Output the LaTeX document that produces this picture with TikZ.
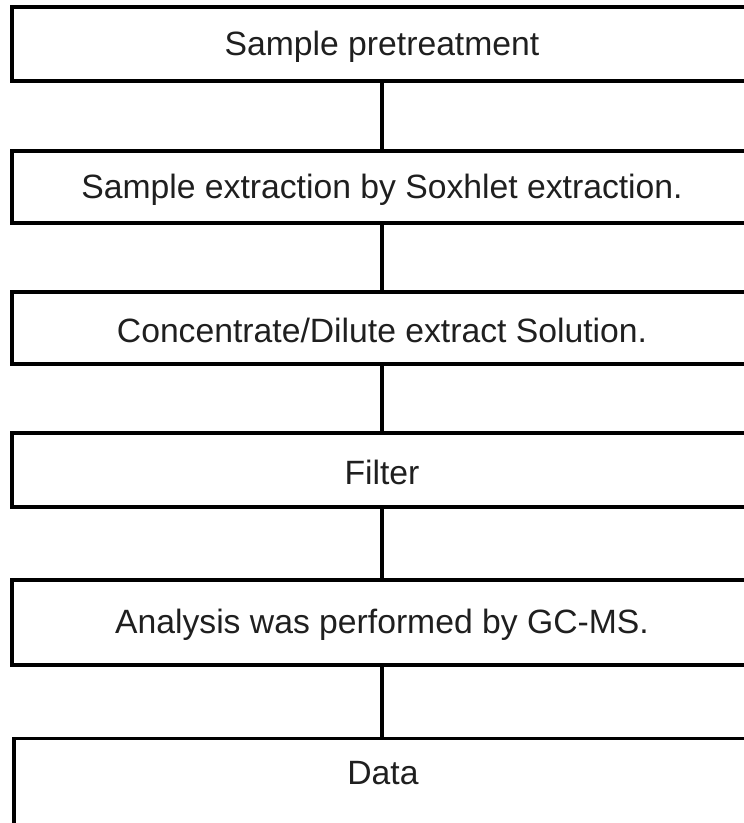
\documentclass[tikz,border=0pt]{standalone}
\usepackage{fontspec}
\setmainfont{Liberation Sans}
\newlength{\loweredht}\newlength{\lowereddp}
\newcommand{\lowered}[1]{\setbox0\hbox{#1}\setlength{\loweredht}{\ht0}\setlength{\lowereddp}{\dp0}\raisebox{-2.5pt}[\loweredht][\lowereddp]{\copy0}}
\begin{document}
\begin{tikzpicture}[x=1pt,y=1pt,
  stepbox/.style={draw=black, line width=3.3pt, rectangle, minimum width=740pt, inner sep=0pt,
    font=\fontsize{33.7}{36}\selectfont, text=black!88},
  link/.style={draw=black, line width=3.3pt}]
\useasboundingbox (0,0) rectangle (744,-823);
\clip (0,0) rectangle (744,-823);
\node[stepbox, minimum height=74pt] (b1) at (382,-44) {\lowered{Sample pretreatment}};
\node[stepbox, minimum height=72pt] (b2) at (382,-187) {\lowered{Sample extraction by Soxhlet extraction.}};
\node[stepbox, minimum height=72pt] (b3) at (382,-328) {\lowered{Concentrate/Dilute extract Solution.}};
\node[stepbox, minimum height=74pt] (b4) at (382,-470) {\lowered{Filter}};
\node[stepbox, minimum height=85pt] (b5) at (382,-622.5) {\lowered{Analysis was performed by GC-MS.}};
\node[stepbox, minimum width=738pt, text height=46pt, text depth=90pt, anchor=north] (b6) at (383,-737) {Data};
\draw[link] (b1.south -| 382,0) -- (b2.north -| 382,0);
\draw[link] (b2.south -| 382,0) -- (b3.north -| 382,0);
\draw[link] (b3.south -| 382,0) -- (b4.north -| 382,0);
\draw[link] (b4.south -| 382,0) -- (b5.north -| 382,0);
\draw[link] (b5.south -| 382,0) -- (b6.north -| 382,0);
\end{tikzpicture}
\end{document}
